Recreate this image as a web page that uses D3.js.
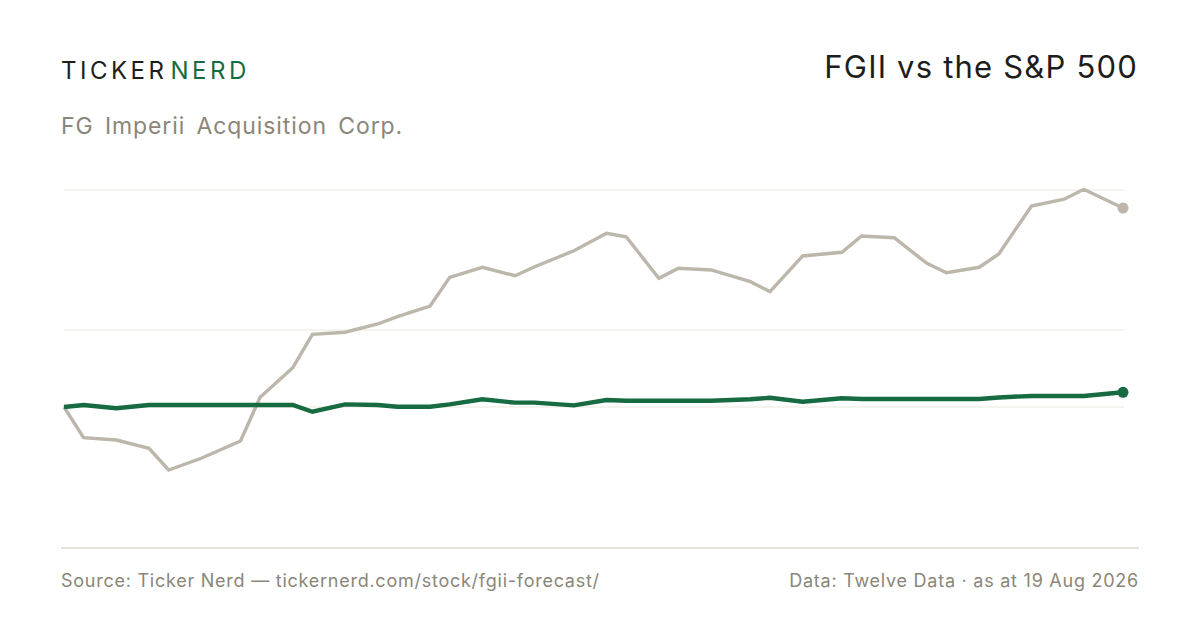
<!DOCTYPE html>
<html>
<head>
<meta charset="utf-8">
<script src="https://cdn.jsdelivr.net/npm/d3@7"></script>
<style>
  html, body { margin: 0; padding: 0; background: #fff; }
  svg { display: block; font-family: Inter, "Noto Sans", sans-serif; }
</style>
</head>
<body>
<div id="chart"></div>
<script>
// sample dates (every few trading days)
let dates = ["2026-03-10", "2026-03-13", "2026-03-18", "2026-03-23", "2026-03-26", "2026-03-31",
    "2026-04-06", "2026-04-09", "2026-04-14", "2026-04-17", "2026-04-22", "2026-04-27", "2026-04-30",
    "2026-05-05", "2026-05-08", "2026-05-13", "2026-05-18", "2026-05-21", "2026-05-27",
    "2026-06-01", "2026-06-04", "2026-06-09", "2026-06-12", "2026-06-17", "2026-06-23", "2026-06-26",
    "2026-07-01", "2026-07-07", "2026-07-10", "2026-07-15", "2026-07-20", "2026-07-23", "2026-07-28", "2026-07-31",
    "2026-08-05", "2026-08-10", "2026-08-13", "2026-08-19"];

// % change since start
let fgii = [0, -21.9, -23.6, -29.5, -45, -36.6, -24.3, 6.9, 28.1, 51.9, 53.4, 59.3, 64.5,
    72.1, 92.6, 99.8, 93.8, 100.2, 111.6, 124.1, 121.6, 91.9, 99.1, 97.9, 89.5, 82.4,
    107.9, 110.5, 122.1, 120.9, 102.6, 95.9, 99.8, 109.3, 143.6, 148.4, 155.5, 142.1];

let spx = [0, 1.4, -0.9, 1.4, 1.4, 1.4, 1.4, 1.4, 1.4, -3.4, 1.9, 1.4, 0.2,
    0.2, 1.9, 5.5, 3.1, 3.1, 1.2, 5.0, 4.5, 4.5, 4.5, 4.5, 5.5, 6.6,
    3.8, 6.2, 5.7, 5.7, 5.7, 5.7, 5.7, 6.8, 7.9, 7.9, 7.9, 10.5];

let gridValues = [155, 55, 0];

let width = 1200, height = 630;

let svg = d3.select("#chart")
    .append("svg")
    .attr("width", width)
    .attr("height", height);

let parse = d3.timeParse("%Y-%m-%d");
let days = dates.map(parse);

let x = d3.scaleTime()
    .domain(d3.extent(days))
    .range([64, 1123]);

let y = d3.scaleLinear()
    .domain([0, 155])
    .range([407, 190]);

// gridlines
svg.append("g")
    .selectAll("line")
    .data(gridValues)
    .enter()
    .append("line")
    .attr("x1", 64)
    .attr("x2", 1124)
    .attr("y1", d => y(d))
    .attr("y2", d => y(d))
    .attr("stroke", "#ebe8e1")
    .attr("stroke-width", 1.2);

// bottom rule
svg.append("line")
    .attr("x1", 61).attr("x2", 1139)
    .attr("y1", 548).attr("y2", 548)
    .attr("stroke", "#dedace")
    .attr("stroke-width", 1.5);

let line = d3.line()
    .x((d, i) => x(days[i]))
    .y(d => y(d));

function drawSeries(values, color, w) {
    svg.append("path")
        .datum(values)
        .attr("fill", "none")
        .attr("stroke", color)
        .attr("stroke-width", w)
        .attr("stroke-linejoin", "miter")
        .attr("d", line);
    let last = values.length - 1;
    svg.append("circle")
        .attr("cx", x(days[last]))
        .attr("cy", y(values[last]))
        .attr("r", 5.5)
        .attr("fill", color);
}

drawSeries(fgii, "#bcb6ab", 3.4);
drawSeries(spx, "#176b40", 4.4);

// header
let logo = svg.append("text")
    .attr("x", 61)
    .attr("y", 79)
    .style("font-size", "24px")
    .style("letter-spacing", "3.5px")
    .style("font-weight", 400);
logo.append("tspan").attr("fill", "#1d1d1b").text("TICKER");
logo.append("tspan").attr("fill", "#176b40").attr("dx", 3).text("NERD");

svg.append("text")
    .attr("x", 61)
    .attr("y", 134)
    .attr("fill", "#8b8678")
    .style("font-size", "23px")
    .style("letter-spacing", "0.9px")
    .style("word-spacing", "4px")
    .text("FG Imperii Acquisition Corp.");

svg.append("text")
    .attr("x", 1138)
    .attr("y", 78)
    .attr("text-anchor", "end")
    .attr("fill", "#1d1d1b")
    .style("font-size", "31px")
    .style("letter-spacing", "1.2px")
    .text("FGII vs the S&P 500");

// footer
svg.append("text")
    .attr("x", 61)
    .attr("y", 587)
    .attr("fill", "#8b8678")
    .style("font-size", "18px")
    .style("letter-spacing", "0.75px")
    .text("Source: Ticker Nerd \u2014 tickernerd.com/stock/fgii-forecast/");

svg.append("text")
    .attr("x", 1139)
    .attr("y", 587)
    .attr("text-anchor", "end")
    .attr("fill", "#8b8678")
    .style("font-size", "18px")
    .style("letter-spacing", "0.75px")
    .text("Data: Twelve Data \u00b7 as at 19 Aug 2026");
</script>
</body>
</html>
